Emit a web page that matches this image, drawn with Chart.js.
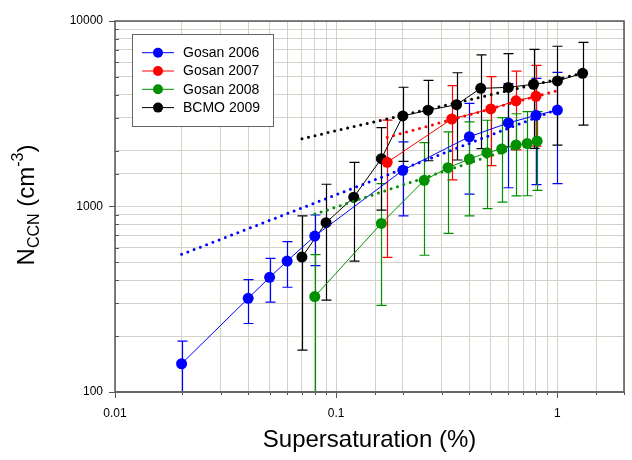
<!DOCTYPE html>
<html>
<head>
<meta charset="utf-8">
<script src="https://cdn.jsdelivr.net/npm/chart.js@4.4.0/dist/chart.umd.min.js"></script>
<style>
  body { margin: 0; background: #fff; }
  #wrap { width: 632px; height: 460px; }
</style>
</head>
<body>
<div id="wrap"><canvas id="ccnChart" width="632" height="460"></canvas></div>
<script>
// --- DATA ---
const gosan2006X = [0.02, 0.04, 0.05, 0.06, 0.08, 0.2, 0.4, 0.6, 0.8, 1.0];
const gosan2006Y = [142, 320, 415, 508, 693, 1567, 2377, 2820, 3100, 3311];
const gosan2006Hi = [188, 403, 525, 646, 900, 2228, 3597, 4600, 4910, 5285];
const gosan2006Lo = [60, 234, 305, 367, 480, 891, 1167, 1262, 1312, 1327];
const gosan2006FitX = [0.02, 1.0];
const gosan2006FitY = [552, 3340];

const gosan2007X = [0.17, 0.333, 0.5, 0.65, 0.8];
const gosan2007Y = [1730, 2963, 3357, 3715, 3930];
const gosan2007Hi = [2925, 4478, 5013, 5371, 5768];
const gosan2007Lo = [532, 1390, 1660, 2018, 2118];
const gosan2007FitX = [0.17, 1.0];
const gosan2007FitY = [2360, 4220];

const gosan2008X = [0.08, 0.16, 0.25, 0.32, 0.40, 0.48, 0.56, 0.65, 0.73, 0.81];
const gosan2008Y = [327, 811, 1384, 1618, 1803, 1950, 2043, 2148, 2186, 2254];
const gosan2008Hi = [550, 1330, 2208, 2523, 2856, 2918, 3011, 3163, 3245, 3245];
const gosan2008Lo = [50, 293, 546, 716, 891, 973, 1055, 1140, 1143, 1222];
const gosan2008FitX = [0.08, 0.8];
const gosan2008FitY = [910, 2260];

const bcmo2009X = [0.07, 0.09, 0.12, 0.16, 0.2, 0.26, 0.35, 0.45, 0.6, 0.78, 1.0, 1.3];
const bcmo2009Y = [534, 818, 1122, 1811, 3076, 3304, 3540, 4335, 4387, 4560, 4753, 5225];
const bcmo2009Hi = [891, 1318, 1730, 2661, 4393, 4786, 5262, 6561, 6668, 7031, 7311, 7676];
const bcmo2009Lo = [168, 313, 507, 957, 1753, 1765, 1781, 2051, 2099, 2060, 2140, 2748];
const bcmo2009FitX = [0.07, 1.3];
const bcmo2009FitY = [2320, 5225];

const seriesLabels = ['Gosan 2006', 'Gosan 2007', 'Gosan 2008', 'BCMO 2009'];
const seriesColors = ['#0000ff', '#ff0000', '#009000', '#000000'];

// --- STYLE ---
const GRID_COLOR = '#d2d2c8';
const AXIS_COLOR = '#555555';
const FONT = 'Arial, "Liberation Sans", sans-serif';

const series = [
    { x: gosan2006X, y: gosan2006Y, hi: gosan2006Hi, lo: gosan2006Lo, fitX: gosan2006FitX, fitY: gosan2006FitY },
    { x: gosan2007X, y: gosan2007Y, hi: gosan2007Hi, lo: gosan2007Lo, fitX: gosan2007FitX, fitY: gosan2007FitY },
    { x: gosan2008X, y: gosan2008Y, hi: gosan2008Hi, lo: gosan2008Lo, fitX: gosan2008FitX, fitY: gosan2008FitY },
    { x: bcmo2009X, y: bcmo2009Y, hi: bcmo2009Hi, lo: bcmo2009Lo, fitX: bcmo2009FitX, fitY: bcmo2009FitY }
];

const toPoints = (xs, ys) => xs.map((x, i) => ({ x: x, y: ys[i] }));
const isDecade = v => Math.abs(Math.log10(v) - Math.round(Math.log10(v))) < 1e-6;

// --- DATASETS ---
const datasets = [];
series.forEach((s, i) => {
    datasets.push({
        label: seriesLabels[i],
        data: toPoints(s.x, s.y),
        showLine: true,
        borderColor: seriesColors[i],
        backgroundColor: seriesColors[i],
        borderWidth: 1,
        pointRadius: 5.5,
        pointBorderWidth: 0,
        order: 1
    });
    datasets.push({
        label: seriesLabels[i] + ' fit',
        data: toPoints(s.fitX, s.fitY),
        showLine: true,
        borderColor: seriesColors[i],
        borderWidth: 3,
        borderDash: [0, 6.7],
        borderCapStyle: 'round',
        pointRadius: 0,
        order: 0
    });
});

// --- PLUGINS ---
// error bars, frame, minor ticks, axis titles and the legend box
const decorPlugin = {
    id: 'decor',
    beforeDatasetsDraw(chart) {
        const { ctx, chartArea, scales } = chart;
        ctx.save();
        ctx.beginPath();
        ctx.rect(chartArea.left, chartArea.top, chartArea.width, chartArea.height);
        ctx.clip();
        ctx.lineWidth = 1.2;
        series.forEach((s, i) => {
            ctx.strokeStyle = seriesColors[i];
            s.x.forEach((xv, j) => {
                const px = Math.round(scales.x.getPixelForValue(xv)) + 0.5;
                const top = scales.y.getPixelForValue(s.hi[j]);
                const bot = scales.y.getPixelForValue(s.lo[j]);
                ctx.beginPath();
                ctx.moveTo(px, top);
                ctx.lineTo(px, bot);
                ctx.moveTo(px - 5, top);
                ctx.lineTo(px + 5, top);
                ctx.moveTo(px - 5, bot);
                ctx.lineTo(px + 5, bot);
                ctx.stroke();
            });
        });
        ctx.restore();
    },
    afterDraw(chart) {
        const { ctx, chartArea, scales } = chart;
        const { left, right, top, bottom } = chartArea;
        ctx.save();

        // minor ticks
        ctx.strokeStyle = AXIS_COLOR;
        ctx.lineWidth = 1;
        scales.x.ticks.forEach(t => {
            if (isDecade(t.value)) return;
            const px = Math.round(scales.x.getPixelForValue(t.value)) + 0.5;
            ctx.beginPath();
            ctx.moveTo(px, bottom);
            ctx.lineTo(px, bottom + 3);
            ctx.stroke();
        });
        scales.y.ticks.forEach(t => {
            if (isDecade(t.value)) return;
            const py = Math.round(scales.y.getPixelForValue(t.value)) + 0.5;
            ctx.beginPath();
            ctx.moveTo(left, py);
            ctx.lineTo(left + 4, py);
            ctx.stroke();
        });

        // frame
        ctx.strokeStyle = AXIS_COLOR;
        ctx.lineWidth = 1.5;
        ctx.strokeRect(left, top, right - left, bottom - top);
        ctx.lineWidth = 2;
        ctx.strokeStyle = '#666666';
        ctx.beginPath();
        ctx.moveTo(left, bottom);
        ctx.lineTo(right, bottom);
        ctx.stroke();

        // x title
        ctx.fillStyle = '#000';
        ctx.font = '24px ' + FONT;
        ctx.textAlign = 'center';
        ctx.textBaseline = 'alphabetic';
        ctx.fillText('Supersaturation (%)', (left + right) / 2, 447);

        // y title with subscript and superscript
        const parts = [
            { t: 'N', size: 24, dy: 0 },
            { t: 'CCN', size: 16, dy: 5 },
            { t: ' (cm', size: 24, dy: 0 },
            { t: '-3', size: 16, dy: -11 },
            { t: ')', size: 24, dy: 0 }
        ];
        let total = 0;
        parts.forEach(p => { ctx.font = p.size + 'px ' + FONT; p.w = ctx.measureText(p.t).width; total += p.w; });
        ctx.translate(34, 205);
        ctx.rotate(-Math.PI / 2);
        ctx.textAlign = 'left';
        let cx = -total / 2;
        parts.forEach(p => {
            ctx.font = p.size + 'px ' + FONT;
            ctx.fillText(p.t, cx, p.dy);
            cx += p.w;
        });
        ctx.setTransform(1, 0, 0, 1, 0, 0);

        // legend
        const lx = 132, ly = 34, lw = 141, lh = 92;
        ctx.fillStyle = '#fff';
        ctx.fillRect(lx, ly, lw, lh);
        ctx.strokeStyle = '#666';
        ctx.lineWidth = 1;
        ctx.strokeRect(lx + 0.5, ly + 0.5, lw, lh);
        ctx.font = '14px ' + FONT;
        ctx.textBaseline = 'middle';
        seriesLabels.forEach((label, i) => {
            const ry = 52.7 + i * 18.3;
            ctx.strokeStyle = seriesColors[i];
            ctx.fillStyle = seriesColors[i];
            ctx.beginPath();
            ctx.moveTo(142, ry);
            ctx.lineTo(174, ry);
            ctx.stroke();
            ctx.beginPath();
            ctx.arc(158, ry, 5, 0, Math.PI * 2);
            ctx.fill();
            ctx.fillStyle = '#000';
            ctx.fillText(label, 183, ry + 0.5);
        });
        ctx.restore();
    }
};

// --- CHART ---
const tickFont = { family: FONT, size: 12 };
const tickLabel = v => isDecade(v) ? String(Number(Number(v).toPrecision(1))) : '';

new Chart(document.getElementById('ccnChart'), {
    type: 'scatter',
    data: { datasets: datasets },
    options: {
        responsive: false,
        animation: false,
        events: [],
        layout: { autoPadding: false, padding: { top: 21, right: 2, left: 0, bottom: 0 } },
        plugins: { legend: { display: false }, tooltip: { enabled: false } },
        scales: {
            x: {
                type: 'logarithmic',
                min: 0.01,
                max: 2,
                afterFit: s => { s.height = 68; },
                border: { display: false },
                grid: {
                    color: GRID_COLOR,
                    lineWidth: 1,
                    tickLength: 6,
                    tickColor: c => (c.tick && isDecade(c.tick.value)) ? AXIS_COLOR : 'rgba(0,0,0,0)'
                },
                ticks: { autoSkip: false, maxRotation: 0, padding: 8, font: tickFont, color: '#000', callback: tickLabel }
            },
            y: {
                type: 'logarithmic',
                min: 100,
                max: 10000,
                afterFit: s => { s.width = 115; },
                border: { display: false },
                grid: {
                    color: GRID_COLOR,
                    lineWidth: 1,
                    tickLength: 6,
                    tickColor: c => (c.tick && isDecade(c.tick.value)) ? AXIS_COLOR : 'rgba(0,0,0,0)'
                },
                ticks: { autoSkip: false, padding: 6, font: tickFont, color: '#000', callback: tickLabel }
            }
        }
    },
    plugins: [decorPlugin]
});
</script>
</body>
</html>
